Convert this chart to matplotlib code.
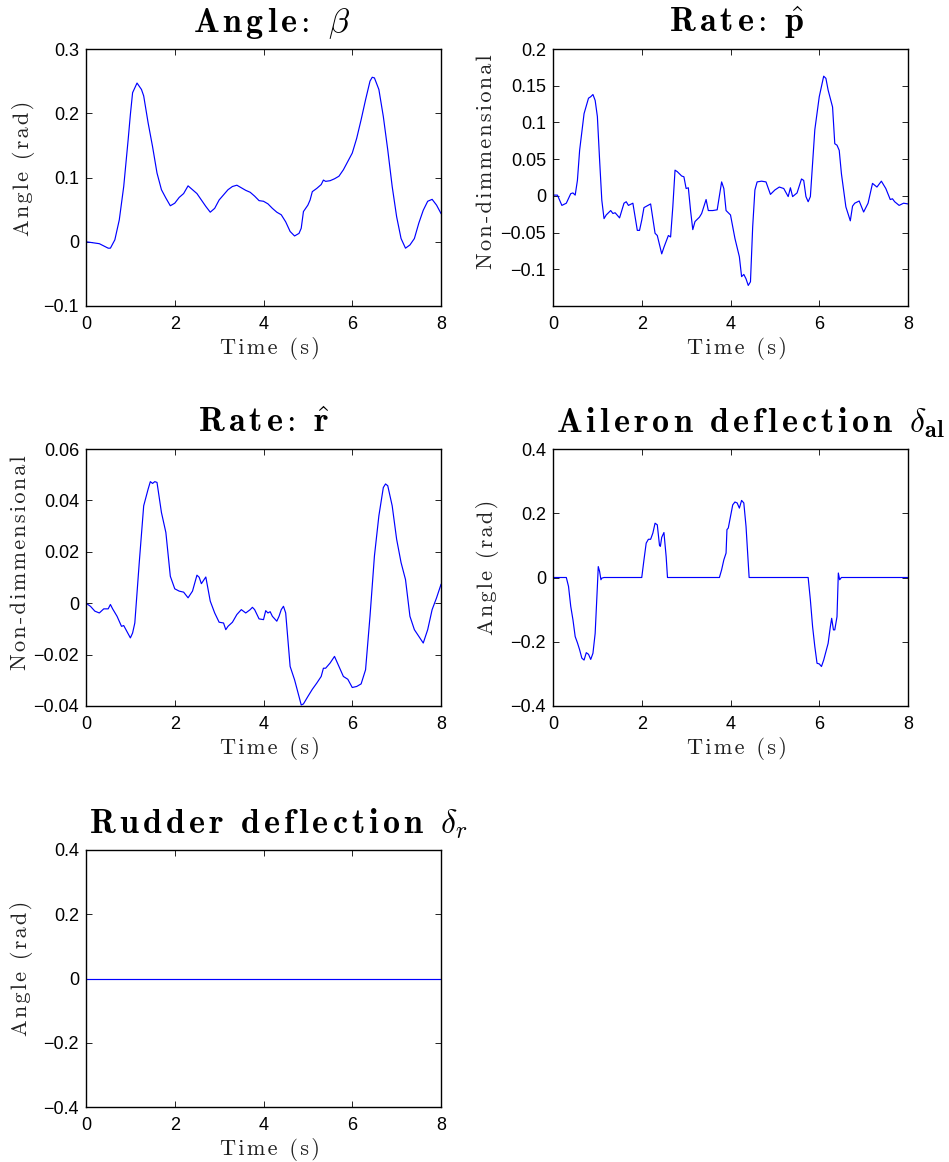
import matplotlib
matplotlib.use('Agg')
import matplotlib.pyplot as plt
from matplotlib.ticker import FuncFormatter

plt.rcParams['mathtext.fontset'] = 'cm'

# sideslip angle beta (rad)
t_beta = [0, 0.3, 0.5, 0.55, 0.65, 0.75, 0.85, 0.95, 1.0, 1.05, 1.15, 1.25, 1.3, 1.4, 1.5, 1.6, 1.7,
          1.8, 1.9, 2.0, 2.1, 2.2, 2.3, 2.4, 2.5, 2.6, 2.7, 2.8, 2.9, 3.0, 3.1, 3.2, 3.3, 3.4, 3.5,
          3.6, 3.7, 3.8, 3.9, 4.0, 4.1, 4.2, 4.3, 4.4, 4.5, 4.6, 4.7, 4.8, 4.85, 4.9, 5.0, 5.05,
          5.1, 5.2, 5.3, 5.35, 5.4, 5.5, 5.6, 5.7, 5.8, 5.9, 6.0, 6.1, 6.2, 6.3, 6.4, 6.45, 6.5,
          6.6, 6.7, 6.8, 6.9, 7.0, 7.1, 7.2, 7.3, 7.4, 7.5, 7.6, 7.7, 7.8, 7.9, 8.0]
beta = [0.0, -0.003, -0.010, -0.010, 0.003, 0.034, 0.086, 0.159, 0.198, 0.232, 0.247, 0.237, 0.227,
        0.185, 0.148, 0.107, 0.081, 0.068, 0.056, 0.060, 0.069, 0.075, 0.087, 0.081, 0.075, 0.065,
        0.055, 0.046, 0.052, 0.065, 0.073, 0.081, 0.086, 0.088, 0.084, 0.080, 0.077, 0.071, 0.064,
        0.063, 0.059, 0.052, 0.046, 0.042, 0.031, 0.016, 0.009, 0.013, 0.021, 0.047, 0.057, 0.065,
        0.078, 0.083, 0.089, 0.096, 0.094, 0.095, 0.098, 0.102, 0.112, 0.125, 0.138, 0.161, 0.190,
        0.221, 0.250, 0.256, 0.255, 0.237, 0.195, 0.143, 0.086, 0.039, 0.005, -0.010, -0.005, 0.005,
        0.029, 0.049, 0.063, 0.066, 0.057, 0.044]

# roll rate p_hat
t_p = [0, 0.1, 0.2, 0.3, 0.4, 0.45, 0.5, 0.55, 0.6, 0.7, 0.8, 0.85, 0.9, 0.95, 1.0, 1.05, 1.1, 1.15,
       1.2, 1.3, 1.35, 1.4, 1.5, 1.6, 1.65, 1.7, 1.8, 1.9, 1.95, 2.0, 2.05, 2.2, 2.3, 2.35, 2.45, 2.5,
       2.6, 2.65, 2.7, 2.75, 2.8, 2.9, 2.95, 3.0, 3.05, 3.1, 3.15, 3.2, 3.3, 3.35, 3.45, 3.5, 3.6,
       3.7, 3.8, 3.85, 3.9, 4.0, 4.1, 4.2, 4.25, 4.3, 4.35, 4.4, 4.45, 4.5, 4.55, 4.6, 4.7, 4.8,
       4.9, 5.0, 5.1, 5.2, 5.3, 5.35, 5.4, 5.5, 5.6, 5.65, 5.7, 5.75, 5.8, 5.9, 6.0, 6.1, 6.15, 6.2,
       6.3, 6.35, 6.4, 6.45, 6.5, 6.6, 6.7, 6.75, 6.8, 6.9, 7.0, 7.1, 7.2, 7.3, 7.4, 7.5, 7.6, 7.65,
       7.7, 7.8, 7.9, 8.0]
p_hat = [0.001, 0.001, -0.013, -0.010, 0.003, 0.004, 0.001, 0.021, 0.062, 0.112, 0.133, 0.135, 0.138,
         0.130, 0.108, 0.049, -0.006, -0.031, -0.026, -0.020, -0.024, -0.023, -0.030, -0.010, -0.008,
         -0.013, -0.010, -0.047, -0.047, -0.033, -0.016, -0.011, -0.051, -0.054, -0.079, -0.070,
         -0.054, -0.056, -0.015, 0.035, 0.033, 0.027, 0.026, 0.010, 0.011, -0.020, -0.046, -0.035,
         -0.029, -0.024, -0.005, -0.020, -0.020, -0.019, 0.019, 0.010, -0.020, -0.026, -0.058,
         -0.083, -0.110, -0.107, -0.113, -0.122, -0.117, -0.042, 0.008, 0.019, 0.020, 0.019, 0.002,
         0.008, 0.012, 0.010, -0.001, 0.011, -0.001, 0.004, 0.023, 0.021, -0.001, -0.008, -0.001,
         0.090, 0.135, 0.163, 0.160, 0.144, 0.121, 0.071, 0.069, 0.062, 0.030, -0.015, -0.034,
         -0.014, -0.010, -0.007, -0.022, -0.010, 0.017, 0.012, 0.020, 0.010, -0.005, -0.004, -0.008,
         -0.013, -0.010, -0.011]

# yaw rate r_hat
t_r = [0, 0.1, 0.2, 0.3, 0.4, 0.5, 0.55, 0.6, 0.7, 0.8, 0.85, 0.9, 1.0, 1.05, 1.1, 1.2, 1.3, 1.4,
       1.45, 1.5, 1.55, 1.6, 1.7, 1.8, 1.9, 2.0, 2.1, 2.2, 2.3, 2.4, 2.5, 2.55, 2.6, 2.7, 2.8, 2.9,
       3.0, 3.1, 3.15, 3.2, 3.3, 3.4, 3.5, 3.6, 3.7, 3.75, 3.8, 3.9, 4.0, 4.05, 4.1, 4.15, 4.2, 4.3,
       4.35, 4.4, 4.45, 4.5, 4.6, 4.7, 4.8, 4.85, 4.9, 5.0, 5.1, 5.2, 5.3, 5.35, 5.4, 5.5, 5.6, 5.7,
       5.8, 5.9, 6.0, 6.1, 6.2, 6.3, 6.4, 6.5, 6.6, 6.7, 6.75, 6.8, 6.9, 7.0, 7.1, 7.2, 7.3, 7.4,
       7.5, 7.6, 7.7, 7.8, 7.9, 8.0]
r_hat = [0.0, -0.0012, -0.0031, -0.0038, -0.0022, -0.0022, -0.0005, -0.0022, -0.0051, -0.0090,
         -0.0087, -0.0103, -0.0135, -0.0116, -0.0077, 0.0158, 0.0379, 0.0444, 0.0473, 0.0466,
         0.0473, 0.0470, 0.0353, 0.0275, 0.0105, 0.0056, 0.0047, 0.0043, 0.0021, 0.0047, 0.0109,
         0.0101, 0.0076, 0.0102, 0.0008, -0.0038, -0.0074, -0.0077, -0.0103, -0.0090, -0.0074,
         -0.0044, -0.0025, -0.0038, -0.0025, -0.0016, -0.0025, -0.0061, -0.0064, -0.0029, -0.0038,
         -0.0033, -0.0051, -0.0070, -0.0051, -0.0025, -0.0012, -0.0038, -0.0246, -0.0298, -0.0363,
         -0.0396, -0.0392, -0.0363, -0.0335, -0.0311, -0.0285, -0.0253, -0.0253, -0.0233, -0.0207,
         -0.0246, -0.0285, -0.0296, -0.0328, -0.0324, -0.0314, -0.0259, -0.0051, 0.0184, 0.0340,
         0.0450, 0.0464, 0.0457, 0.0379, 0.0249, 0.0158, 0.0092, -0.0051, -0.0103, -0.0129, -0.0155,
         -0.0103, -0.0025, 0.0021, 0.0073]

# aileron deflection (rad)
t_al = [0, 0.3, 0.35, 0.4, 0.45, 0.5, 0.55, 0.6, 0.65, 0.7, 0.75, 0.8, 0.85, 0.9, 0.95, 1.0, 1.02,
        1.05, 1.08, 1.1, 1.15, 2.0, 2.05, 2.1, 2.15, 2.2, 2.25, 2.3, 2.35, 2.4, 2.42, 2.45, 2.5,
        2.55, 2.58, 3.75, 3.8, 3.85, 3.9, 3.92, 3.95, 4.0, 4.05, 4.1, 4.15, 4.2, 4.25, 4.3, 4.35,
        4.4, 4.42, 5.75, 5.8, 5.85, 5.9, 5.95, 6.0, 6.05, 6.1, 6.15, 6.2, 6.25, 6.28, 6.32, 6.35,
        6.4, 6.43, 6.46, 6.5, 8.0]
delta_al = [0.0, 0.0, -0.028, -0.090, -0.132, -0.184, -0.203, -0.225, -0.251, -0.257, -0.234, -0.239,
            -0.255, -0.236, -0.174, -0.028, 0.034, 0.019, -0.007, -0.002, 0.0, 0.0, 0.055, 0.107,
            0.119, 0.119, 0.138, 0.169, 0.164, 0.100, 0.097, 0.125, 0.140, 0.065, 0.0, 0.0, 0.024,
            0.055, 0.076, 0.149, 0.154, 0.190, 0.226, 0.235, 0.232, 0.216, 0.240, 0.232, 0.159,
            0.045, 0.0, 0.0, -0.070, -0.153, -0.215, -0.267, -0.269, -0.277, -0.257, -0.231, -0.205,
            -0.153, -0.127, -0.163, -0.163, -0.122, 0.014, -0.007, 0.0, 0.0]

# rudder deflection (rad)
t_rud = [0, 8]
delta_r = [0.0, 0.0]


def bold_spaced(s):
    # letter-spaced bold computer modern, like the latex titles
    words = []
    for w in s.split(' '):
        w = r'\hspace{0.14}'.join(w)
        w = w.replace(':', r'\hspace{-0.2}:\hspace{-0.2}')
        words.append(r'\mathbf{' + w + '}')
    return r'\hspace{0.6}'.join(words)


def spaced_text(s):
    return '\u200a'.join(s)


def fmt(v, pos):
    v = round(v, 6) + 0.0
    return ('%g' % v).replace('-', '\u2212')


titles = [
    r'$' + bold_spaced('Angle:') + r'\hspace{0.6}\beta$',
    r'$' + bold_spaced('Rate:') + r'\hspace{0.6}\hat{\mathbf{p}}$',
    r'$' + bold_spaced('Rate:') + r'\hspace{0.6}\hat{\mathbf{r}}$',
    r'$' + bold_spaced('Aileron deflection') + r'\hspace{0.6}\delta_{\mathbf{al}}$',
    r'$' + bold_spaced('Rudder deflection') + r'\hspace{0.6}\delta_r$',
]
title_dx = [8, 6, 0, 20, 15]
ylabels = ['Angle (rad)', 'Non-dimmensional', 'Non-dimmensional', 'Angle (rad)', 'Angle (rad)']
ylabel_dx = [51, 57, 56, 54, 53]
ylabel_dy = [9, 16, 15, 10, 10]
series = [(t_beta, beta), (t_p, p_hat), (t_r, r_hat), (t_al, delta_al), (t_rud, delta_r)]
ylims = [(-0.1, 0.3), (-0.15, 0.2), (-0.04, 0.06), (-0.4, 0.4), (-0.4, 0.4)]
yticks = [[-0.1, 0, 0.1, 0.2, 0.3],
          [-0.1, -0.05, 0, 0.05, 0.1, 0.15, 0.2],
          [-0.04, -0.02, 0, 0.02, 0.04, 0.06],
          [-0.4, -0.2, 0, 0.2, 0.4],
          [-0.4, -0.2, 0, 0.2, 0.4]]

W, H = 949, 1162
fig = plt.figure(figsize=(W / 100, H / 100), dpi=100)
lefts = [86, 553, 86, 553, 86]
tops = [49, 49, 449, 449, 850]
aw, ah = 355, 257
serif = ['cmr10', 'DejaVu Serif']

for i in range(5):
    ax = fig.add_axes([lefts[i] / W, 1 - (tops[i] + ah) / H, aw / W, ah / H])
    t, y = series[i]
    ax.plot(t, y, color='#0000ff', lw=0.85)
    ax.set_xlim(0, 8)
    ax.set_ylim(*ylims[i])
    ax.set_xticks([0, 2, 4, 6, 8])
    ax.set_yticks(yticks[i])
    ax.xaxis.set_major_formatter(FuncFormatter(fmt))
    ax.yaxis.set_major_formatter(FuncFormatter(fmt))
    ax.tick_params(direction='in', top=True, right=True, length=4, width=0.6, labelsize=13)
    ax.tick_params(axis='x', pad=7)
    ax.tick_params(axis='y', pad=5)
    for lab in ax.get_xticklabels() + ax.get_yticklabels():
        lab.set_fontfamily('Liberation Sans')
    for sp in ax.spines.values():
        sp.set_linewidth(1.0)
    ax.set_title(titles[i], fontsize=24.5, pad=12, x=0.5 + title_dx[i] / aw)
    ax.set_xlabel(spaced_text('Time (s)'), fontsize=16, family=serif, color='#222222')
    ax.xaxis.set_label_coords(0.5 + 6 / aw, -31 / ah)
    ax.set_ylabel(spaced_text(ylabels[i]), fontsize=16, family=serif, color='#222222')
    ax.yaxis.set_label_coords(-ylabel_dx[i] / aw, 0.5 + ylabel_dy[i] / ah)

plt.savefig('out.png', dpi=100)
